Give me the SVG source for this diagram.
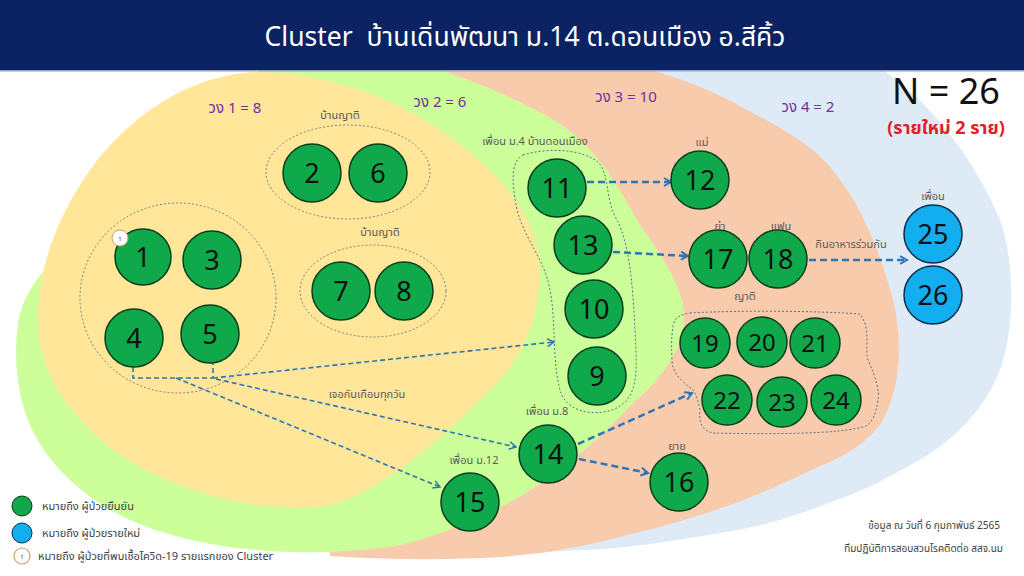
<svg xmlns="http://www.w3.org/2000/svg" width="1024" height="576" viewBox="0 0 1024 576">
<defs>
<style>
.bg{stroke:none}
.node{fill:#0fa84a;stroke:#0b3d1c;stroke-width:1.5}
.nodeb{fill:#12aef0;stroke:#0b2d4a;stroke-width:1.5}
.num{font-family:"Noto Sans","Liberation Sans",sans-serif;font-size:27px;fill:#111;text-anchor:middle}
.nums{font-family:"Noto Sans","Liberation Sans",sans-serif;font-size:24px;fill:#111;text-anchor:middle}
.lbl{font-family:"Noto Sans Thai","Noto Sans","DejaVu Sans",sans-serif;font-size:11px;fill:#5a5a5a;text-anchor:middle}
.ring{font-family:"Noto Sans Thai","Noto Sans","DejaVu Sans",sans-serif;font-size:15px;fill:#7030a0;text-anchor:middle}
.grp{fill:none;stroke:#808080;stroke-width:1;stroke-dasharray:2 2}
.grpb{fill:none;stroke:#5d6e86;stroke-width:1;stroke-dasharray:2 2}
.con{fill:none;stroke:#2e75b6;stroke-width:2.5;stroke-dasharray:7 4}
.cont{fill:none;stroke:#2e75b6;stroke-width:1.6;stroke-dasharray:5 3}
.leg{font-family:"Noto Sans Thai","Noto Sans","DejaVu Sans",sans-serif;font-size:11px;fill:#404040}
.foot{font-family:"Noto Sans Thai","Noto Sans","DejaVu Sans",sans-serif;font-size:10px;fill:#404040;text-anchor:end}
</style>
<marker id="arr" viewBox="0 0 10 10" refX="8" refY="5" markerWidth="4" markerHeight="4" orient="auto" markerUnits="strokeWidth">
<path d="M1 1 L8 5 L1 9" fill="none" stroke="#2e75b6" stroke-width="2"/>
</marker>
<marker id="arrt" viewBox="0 0 10 10" refX="8" refY="5" markerWidth="6" markerHeight="6" orient="auto" markerUnits="strokeWidth">
<path d="M1 1 L8 5 L1 9" fill="none" stroke="#2e75b6" stroke-width="1.6"/>
</marker>
</defs>
<rect width="1024" height="576" fill="#ffffff"/>
<g id="rings">
<path class="bg" fill="#deebf7" d="M600 60 L877 66 C930 100 975 160 1000 220 C1015 260 1015 330 1000 370 C985 410 950 445 907 467 C880 482 860 492 837 500 C790 518 760 527 720 533 C680 540 640 546 604 549 L480 555 L470 300 Z"/>
<path class="bg" fill="#f8cbad" d="M380 60 L637 66 C690 80 725 97 747 110 C790 132 820 150 840 180 C860 205 880 250 893 300 C905 350 898 395 880 425 C860 450 835 460 814 469 C790 480 770 490 744 500 C700 516 660 528 627 535 C580 548 540 554 500 557 C450 560 390 560 330 556 L300 300 Z"/>
<path class="bg" fill="#ccff99" d="M270 60 L410 60 C470 78 520 100 557 122 C600 150 620 190 640 225 C665 260 684 290 684 315 C684 350 660 380 636 400 C615 422 590 448 562 467 C540 485 510 505 478 517 C450 530 420 542 390 547 C360 551 320 553 290 552 C230 550 170 540 120 515 C75 492 40 455 26 415 C16 385 14 350 18 325 C20 305 30 285 55 258 L270 60 Z"/>
<path class="bg" fill="#ffe699" d="M255 72 C320 72 390 95 440 130 C500 170 540 220 540 270 C540 320 520 360 495 385 C475 405 460 420 445 433 C420 455 390 480 347 500 C320 510 295 508 270 506 C200 500 130 470 90 430 C55 395 38 360 38 320 C38 270 55 220 90 170 C130 115 190 75 255 72 Z"/>
</g>
<g id="header">
<rect x="0" y="0" width="1024" height="70" fill="#0b2263"/>
<rect x="0" y="70" width="1024" height="1.5" fill="#8da2c6"/>
<text x="525" y="46" font-family="Noto Sans Thai,Noto Sans,DejaVu Sans,sans-serif" font-size="26.5" fill="#ffffff" text-anchor="middle" xml:space="preserve">Cluster  บ้านเดิ่นพัฒนา ม.14 ต.ดอนเมือง อ.สีคิ้ว</text>
</g>
<g id="ring-labels">
<text class="ring" x="235" y="113">วง 1 = 8</text>
<text class="ring" x="440" y="107">วง 2 = 6</text>
<text class="ring" x="626" y="102">วง 3 = 10</text>
<text class="ring" x="808" y="112">วง 4 = 2</text>
<text x="946" y="104" font-family="Noto Sans,Liberation Sans,sans-serif" font-size="36" fill="#111" text-anchor="middle">N = 26</text>
<text x="946" y="134" font-family="Noto Sans Thai,Noto Sans,DejaVu Sans,sans-serif" font-size="18" font-weight="bold" fill="#e0202a" text-anchor="middle">(รายใหม่ 2 ราย)</text>
</g>
<g id="groups">
<ellipse class="grp" cx="178" cy="298" rx="98" ry="95"/>
<ellipse class="grp" cx="348" cy="172" rx="82" ry="47"/>
<ellipse class="grp" cx="373" cy="291" rx="73" ry="46"/>
<path class="grpb" d="M523 155 C545 148 580 148 598 162 C610 175 605 200 617 220 C630 245 633 290 635 330 C637 370 640 400 612 410 C590 417 565 410 560 390 C552 360 556 320 550 290 C545 260 525 240 517 210 C512 185 510 162 523 155 Z"/>
<path class="grpb" d="M690 313 C740 310 820 311 860 314 C872 330 864 350 868 360 C876 378 880 392 878 400 C876 415 872 422 866 426 C840 435 760 434 713 433 C700 430 699 420 700 410 C698 400 696 394 693 390 C680 380 672 372 672 360 C671 340 672 326 675 320 C679 315 684 314 690 313 Z"/>
<text class="lbl" x="340" y="119">บ้านญาติ</text>
<text class="lbl" x="380" y="236">บ้านญาติ</text>
<text class="lbl" x="535" y="145">เพื่อน ม.4 บ้านดอนเมือง</text>
<text class="lbl" x="745" y="300">ญาติ</text>
</g>
<g id="connectors">
<path class="cont" d="M133 367 V378 H213 V363"/>
<path class="cont" marker-end="url(#arrt)" d="M213 378 L554 342"/>
<path class="cont" marker-end="url(#arrt)" d="M216 379 L516 447"/>
<path class="cont" marker-end="url(#arrt)" d="M176 378 L440 487"/>
<path class="con" marker-end="url(#arr)" d="M587 182 L671 182"/>
<path class="con" marker-end="url(#arr)" d="M613 252 L688 256"/>
<path class="con" marker-end="url(#arr)" d="M809 260 L907 260"/>
<path class="con" marker-end="url(#arr)" d="M578 444 L692 393"/>
<path class="con" marker-end="url(#arr)" d="M579 459 L648 473"/>
<text class="lbl" x="367" y="398">เจอกันเกือบทุกวัน</text>
<text class="lbl" x="851" y="248">กินอาหารร่วมกัน</text>
</g>
<g id="n1"><circle class="node" cx="143" cy="257" r="28"/><text class="num" x="143" y="267">1</text>
<circle cx="120" cy="238" r="8" fill="#fff" stroke="#c9a27a" stroke-width="1"/><text x="120" y="240.5" font-family="Noto Sans,sans-serif" font-size="6" fill="#333" text-anchor="middle">1</text></g>
<g id="n3"><circle class="node" cx="212" cy="260" r="29"/><text class="num" x="212" y="270">3</text></g>
<g id="n4"><circle class="node" cx="134" cy="338" r="29"/><text class="num" x="134" y="348">4</text></g>
<g id="n5"><circle class="node" cx="210" cy="334" r="29"/><text class="num" x="210" y="344">5</text></g>
<g id="n2"><circle class="node" cx="312" cy="173" r="29"/><text class="num" x="312" y="183">2</text></g>
<g id="n6"><circle class="node" cx="378" cy="173" r="29"/><text class="num" x="378" y="183">6</text></g>
<g id="n7"><circle class="node" cx="341" cy="291" r="29"/><text class="num" x="341" y="301">7</text></g>
<g id="n8"><circle class="node" cx="404" cy="291" r="29"/><text class="num" x="404" y="301">8</text></g>
<g id="n11"><circle class="node" cx="557" cy="188" r="29"/><text class="num" x="557" y="198">11</text></g>
<g id="n13"><circle class="node" cx="583" cy="245" r="29"/><text class="num" x="583" y="255">13</text></g>
<g id="n10"><circle class="node" cx="594" cy="309" r="29"/><text class="num" x="594" y="319">10</text></g>
<g id="n9"><circle class="node" cx="597" cy="376" r="29"/><text class="num" x="597" y="386">9</text></g>
<g id="n12"><circle class="node" cx="700" cy="180" r="29"/><text class="num" x="700" y="190">12</text><text class="lbl" x="702" y="146">แม่</text></g>
<g id="n17"><circle class="node" cx="718" cy="259" r="29"/><text class="num" x="718" y="269">17</text><text class="lbl" x="720" y="230">ย่า</text></g>
<g id="n18"><circle class="node" cx="778" cy="259" r="29"/><text class="num" x="778" y="269">18</text><text class="lbl" x="781" y="230">แฟน</text></g>
<g id="n19"><circle class="node" cx="705" cy="343" r="25"/><text class="nums" x="705" y="352">19</text></g>
<g id="n20"><circle class="node" cx="762" cy="342" r="25"/><text class="nums" x="762" y="351">20</text></g>
<g id="n21"><circle class="node" cx="815" cy="343" r="25"/><text class="nums" x="815" y="352">21</text></g>
<g id="n22"><circle class="node" cx="727" cy="400" r="25"/><text class="nums" x="727" y="409">22</text></g>
<g id="n23"><circle class="node" cx="782" cy="402" r="25"/><text class="nums" x="782" y="411">23</text></g>
<g id="n24"><circle class="node" cx="836" cy="400" r="25"/><text class="nums" x="836" y="409">24</text></g>
<g id="n14"><circle class="node" cx="548" cy="454" r="29"/><text class="num" x="548" y="464">14</text><text class="lbl" x="547" y="415">เพื่อน ม.8</text></g>
<g id="n15"><circle class="node" cx="470" cy="502" r="29"/><text class="num" x="470" y="512">15</text><text class="lbl" x="474" y="464">เพื่อน ม.12</text></g>
<g id="n16"><circle class="node" cx="679" cy="482" r="29"/><text class="num" x="679" y="492">16</text><text class="lbl" x="677" y="450">ยาย</text></g>
<g id="n25"><circle class="nodeb" cx="933" cy="234" r="29"/><text class="num" x="933" y="244">25</text><text class="lbl" x="933" y="200">เพื่อน</text></g>
<g id="n26"><circle class="nodeb" cx="933" cy="295" r="29"/><text class="num" x="933" y="305">26</text></g>
<g id="legend">
<circle cx="22" cy="506" r="10" fill="#0fa84a" stroke="#0b3d1c" stroke-width="1"/>
<text class="leg" x="42" y="510">หมายถึง ผู้ป่วยยืนยัน</text>
<circle cx="22" cy="533" r="10" fill="#12aef0" stroke="#0b2d4a" stroke-width="1"/>
<text class="leg" x="42" y="537">หมายถึง ผู้ป่วยรายใหม่</text>
<circle cx="22" cy="556" r="8" fill="#fff" stroke="#c9a27a" stroke-width="1.2"/>
<text x="22" y="558.5" font-family="Noto Sans,sans-serif" font-size="6" fill="#333" text-anchor="middle">1</text>
<text class="leg" x="38" y="560">หมายถึง ผู้ป่วยที่พบเชื้อโควิด-19 รายแรกของ Cluster</text>
</g>
<g id="footer">
<text class="foot" x="1000" y="529">ข้อมูล ณ วันที่ 6 กุมภาพันธ์ 2565</text>
<text class="foot" x="1003" y="552">ทีมปฏิบัติการสอบสวนโรคติดต่อ สสจ.นม</text>
</g>
</svg>
